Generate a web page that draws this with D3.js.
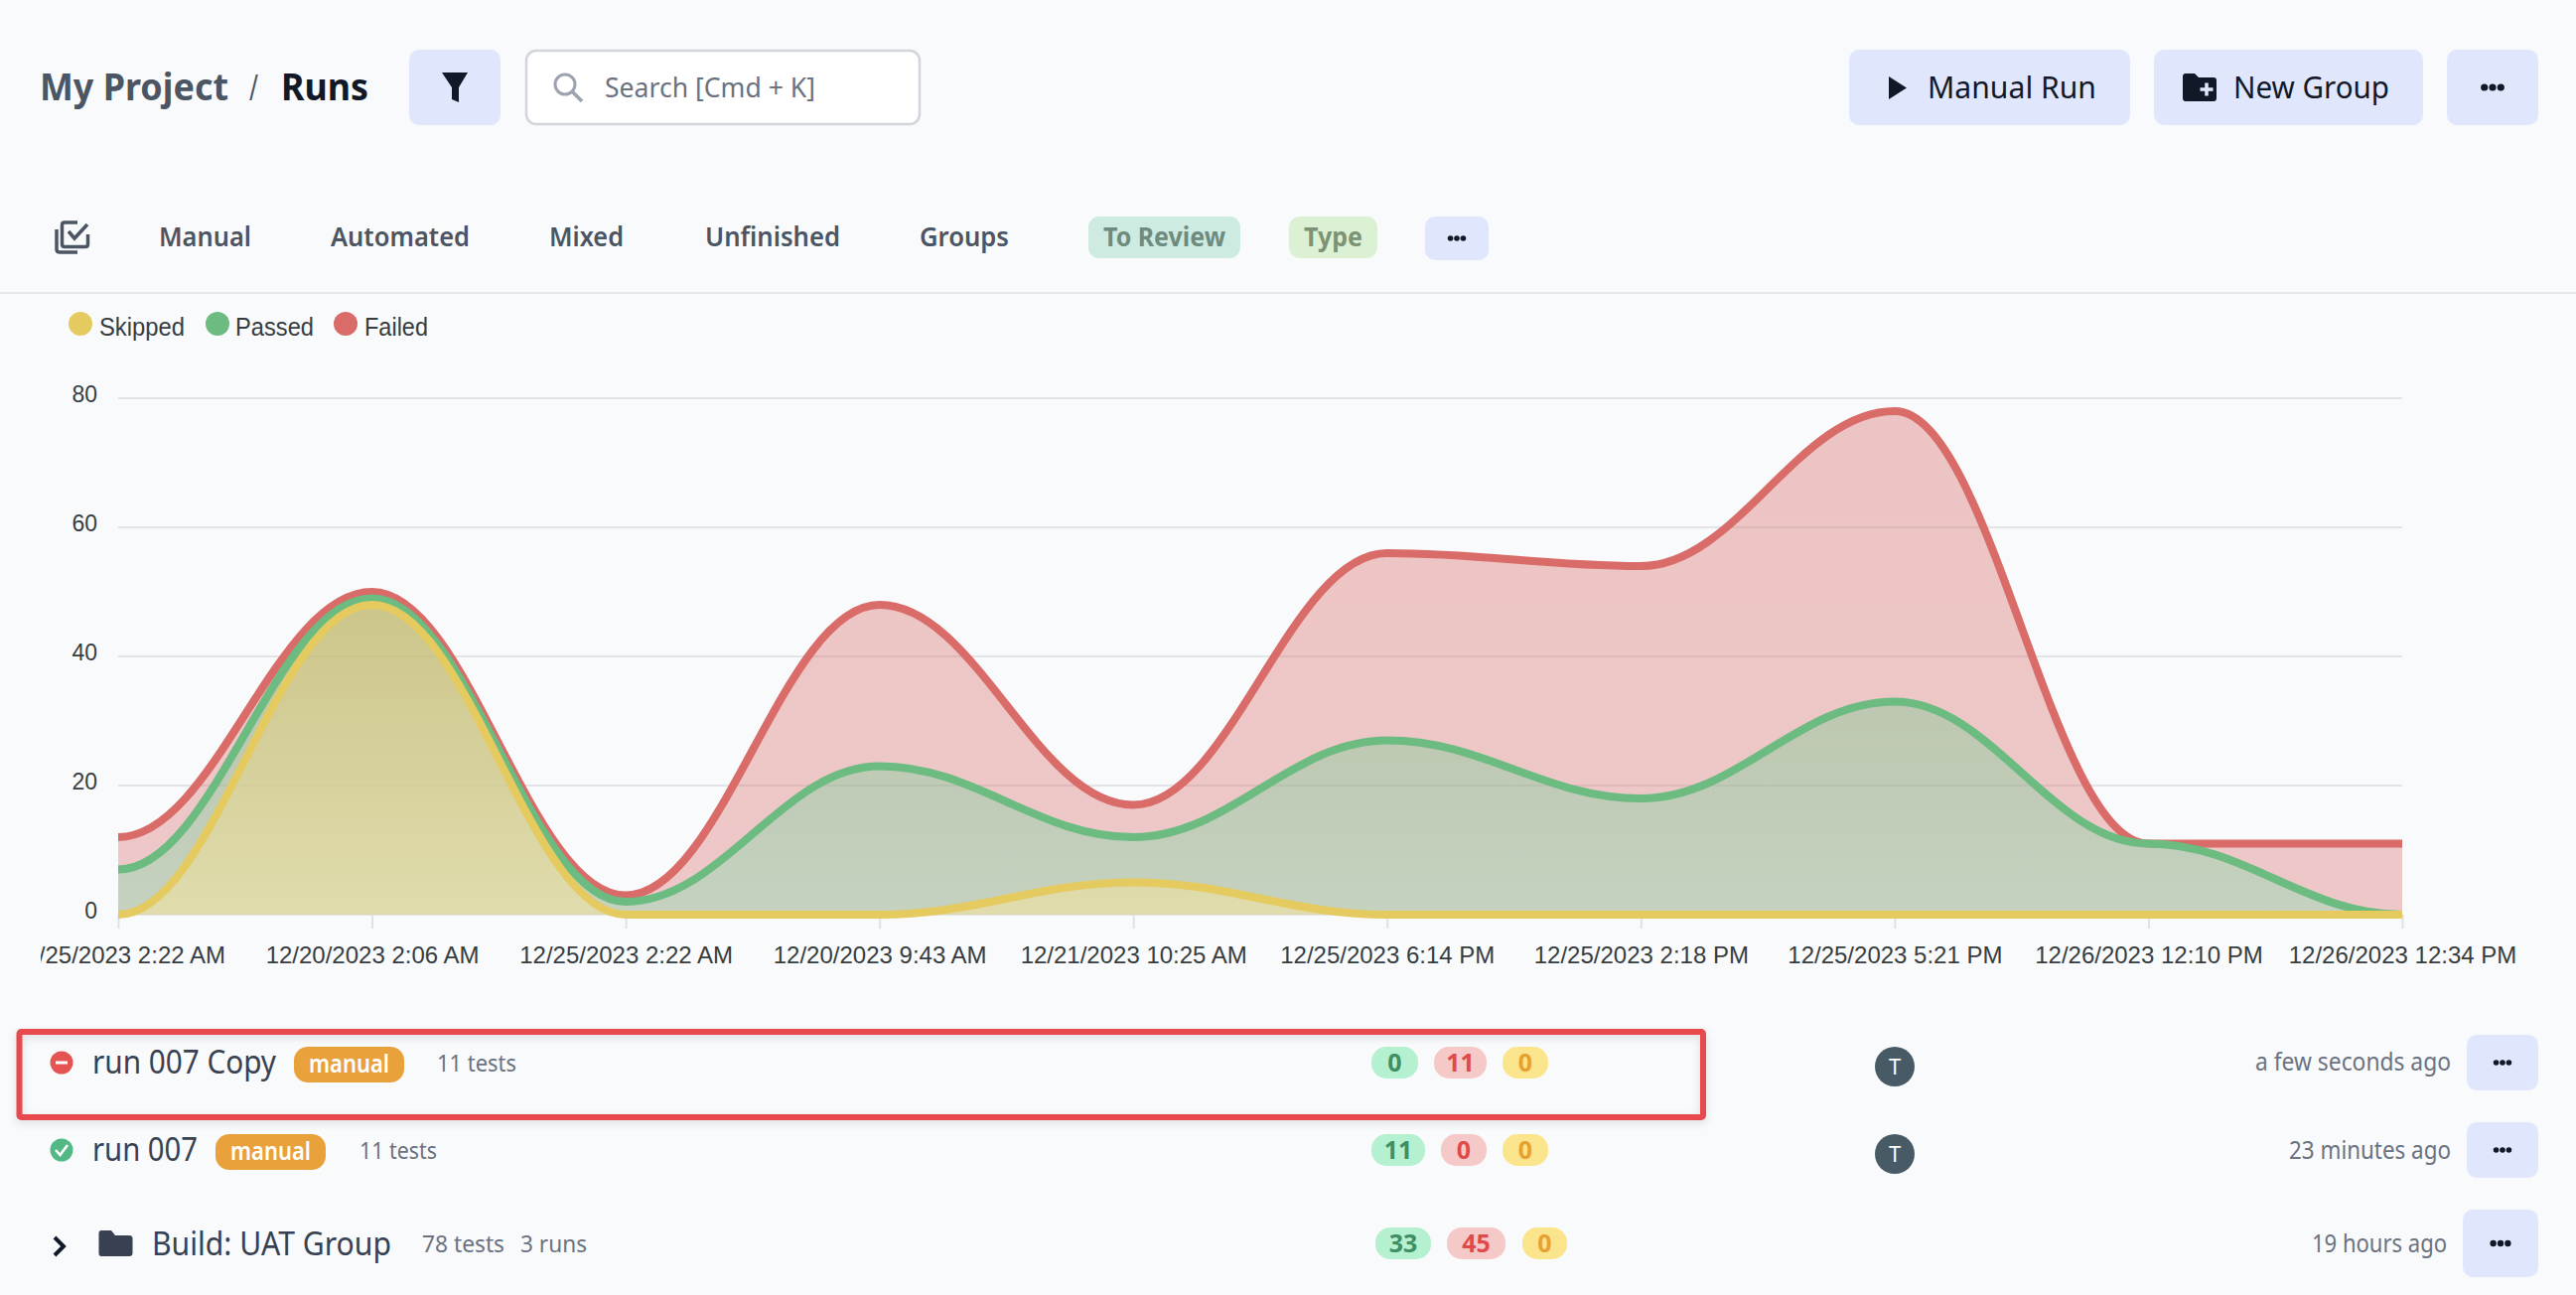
<!DOCTYPE html>
<html>
<head>
<meta charset="utf-8">
<title>Runs</title>
<script src="https://d3js.org/d3.v7.min.js"></script>
<style>
html, body { margin: 0; padding: 0; background: #f9fafc; }
svg { display: block; }
.ui { font-family: "Noto Sans", sans-serif; }
.chart text { font-family: "Liberation Sans", Arial, sans-serif; }
</style>
</head>
<body>
<svg id="page" width="2594" height="1304"></svg>
<script>
// chart values
var xLabels = ["12/25/2023 2:22 AM", "12/20/2023 2:06 AM", "12/25/2023 2:22 AM", "12/20/2023 9:43 AM", "12/21/2023 10:25 AM",
  "12/25/2023 6:14 PM", "12/25/2023 2:18 PM", "12/25/2023 5:21 PM", "12/26/2023 12:10 PM", "12/26/2023 12:34 PM"];
var failed  = [12, 50, 3, 48, 17, 56, 54, 78, 11, 11];
var passed  = [7, 49, 2, 23, 12, 27, 18, 33, 11, 0];
var skipped = [0, 48, 0, 0, 5, 0, 0, 0, 0, 0];
var yTicks = [0, 20, 40, 60, 80];
var seriesNames = ["Skipped", "Passed", "Failed"];
var seriesColors = ["#e5ca60", "#6cbb80", "#d96b68"];
// area fill: [top colour, top opacity, bottom colour, bottom opacity]
var seriesFills = [["#e5ca60", 0.42, "#fce699", 0.5], ["#6cbb80", 0.4, "#85e1b2", 0.4], ["#d96b68", 0.38, "#d96b68", 0.35]];

// page text: [text, x, baseline, width, size, weight, colour]
var pageTexts = [
  ["My Project", 40, 101, 190, 37, 700, "#4b5563"],
  ["/", 251, 101, 9, 37, 400, "#4b5563"],
  ["Runs", 283, 101, 88, 37, 700, "#111827"],
  ["Search [Cmd + K]", 609, 98, 212, 27, 400, "#6b7280"],
  ["Manual Run", 1941, 99, 170, 31, 400, "#111827"],
  ["New Group", 2249, 99, 157, 31, 400, "#111827"],
  ["Manual", 160, 248, 93, 27, 600, "#4b5563"],
  ["Automated", 333, 248, 140, 27, 600, "#4b5563"],
  ["Mixed", 553, 248, 75, 27, 600, "#4b5563"],
  ["Unfinished", 710, 248, 136, 27, 600, "#4b5563"],
  ["Groups", 926, 248, 90, 27, 600, "#4b5563"],
  ["To Review", 1111, 248, 123, 27, 700, "#6f8b80"],
  ["Type", 1313, 248, 59, 27, 700, "#7c9374"],
  ["run 007 Copy", 93, 1081, 185, 32, 400, "#374151"],
  ["11 tests", 440, 1079, 80, 24, 400, "#6b7280"],
  ["run 007", 93, 1169, 106, 32, 400, "#374151"],
  ["11 tests", 362, 1167, 78, 24, 400, "#6b7280"],
  ["Build: UAT Group", 153, 1264, 241, 32, 400, "#374151"],
  ["78 tests", 425, 1261, 83, 24, 400, "#6b7280"],
  ["3 runs", 524, 1261, 67, 24, 400, "#6b7280"]
];
var timeTexts = [["a few seconds ago", 2468, 1078, 197], ["23 minutes ago", 2468, 1167, 163], ["19 hours ago", 2464, 1261, 136]];

// flat buttons: [x, y, w, h]
var buttons = [[412, 50, 92, 76], [1862, 50, 283, 76], [2169, 50, 271, 76], [2464, 50, 92, 76],
  [1435, 218, 64, 44], [2484, 1042, 72, 56], [2484, 1130, 72, 56], [2480, 1218, 76, 68]];
var moreDots = [[2510, 88, 3.6], [1467, 240, 2.8], [2520, 1070, 2.8], [2520, 1158, 2.8], [2518, 1252, 3.2]];

// count pills: [text, x, y, w, h, kind]
var pillColors = { g: ["#b5f0d0", "#3f8f65"], r: ["#f6c9c9", "#e04a4a"], y: ["#fae48c", "#e8a030"] };
var pills = [
  ["0", 1381, 1054, 47, 32, "g"], ["11", 1444, 1054, 53, 32, "r"], ["0", 1513, 1054, 46, 32, "y"],
  ["11", 1381, 1142, 54, 32, "g"], ["0", 1451, 1142, 46, 32, "r"], ["0", 1513, 1142, 46, 32, "y"],
  ["33", 1385, 1236, 56, 32, "g"], ["45", 1457, 1236, 59, 32, "r"], ["0", 1533, 1236, 45, 32, "y"]
];
var manualBadges = [[296, 1054, 111, 36], [217, 1142, 111, 36]];
var avatars = [[1908, 1074], [1908, 1162]];

var svg = d3.select("#page");
svg.append("rect").attr("width", 2594).attr("height", 1304).attr("fill", "#f9fafc");

var defs = svg.append("defs");
var blur = defs.append("filter").attr("id", "soft").attr("x", "-5%").attr("y", "-20%").attr("width", "110%").attr("height", "140%");
blur.append("feDropShadow").attr("dx", 0).attr("dy", 3).attr("stdDeviation", 4).attr("flood-color", "#000").attr("flood-opacity", 0.12);

// ----- chart -----
var x = d3.scaleLinear().domain([0, xLabels.length - 1]).range([119, 2419]);
var y = d3.scaleLinear().domain([0, 80]).range([921, 401]);

// flat tangent at every point, the way the original curve behaves
function flatCurve(context) {
  var line, started, px, py;
  return {
    areaStart: function() { line = 0; },
    areaEnd: function() { line = NaN; },
    lineStart: function() { started = 0; },
    lineEnd: function() {
      if (line || (line !== 0 && started === 1)) context.closePath();
      line = 1 - line;
    },
    point: function(a, b) {
      a = +a; b = +b;
      if (started === 0) {
        started = 1;
        if (line) context.lineTo(a, b); else context.moveTo(a, b);
      } else {
        started = 2;
        var k = (a - px) * 0.38;
        context.bezierCurveTo(px + k, py, a - k, b, a, b);
      }
      px = a; py = b;
    }
  };
}

var chart = svg.append("g").attr("class", "chart");

chart.append("g").selectAll("line").data(yTicks).enter().append("line")
  .attr("x1", x(0)).attr("x2", x(9))
  .attr("y1", function(d) { return y(d); }).attr("y2", function(d) { return y(d); })
  .attr("stroke", "#e2e4e8").attr("stroke-width", 2);

// first label runs off the chart's left edge in the original
var labelClip = defs.append("clipPath").attr("id", "labelClip");
labelClip.append("rect").attr("x", 41).attr("y", 0).attr("width", 2553).attr("height", 70);

var xAxis = d3.axisBottom(x).tickValues(d3.range(xLabels.length))
  .tickFormat(function(i) { return xLabels[i]; }).tickSize(14).tickPadding(18);
var xAxisG = chart.append("g").attr("transform", "translate(0," + y(0) + ")").call(xAxis);
xAxisG.attr("clip-path", "url(#labelClip)");
xAxisG.select(".domain").remove();
xAxisG.selectAll("line").attr("stroke", "#dfe1e5").attr("stroke-width", 2);
xAxisG.selectAll("text").attr("fill", "#373d3f").attr("font-size", 24);

var yAxis = d3.axisLeft(y).tickValues(yTicks).tickSize(0).tickPadding(21);
var yAxisG = chart.append("g").attr("transform", "translate(" + x(0) + ",0)").call(yAxis);
yAxisG.select(".domain").remove();
yAxisG.selectAll("text").attr("fill", "#373d3f").attr("font-size", 23).attr("dy", "0.17em");

var area = d3.area().x(function(d, i) { return x(i); }).y0(y(0)).y1(function(d) { return y(d); }).curve(flatCurve);
var line = d3.line().x(function(d, i) { return x(i); }).y(function(d) { return y(d); }).curve(flatCurve);

[[failed, 2], [passed, 1], [skipped, 0]].forEach(function(s) {
  var color = seriesColors[s[1]], fill = seriesFills[s[1]], id = "fill" + s[1];
  var grad = defs.append("linearGradient").attr("id", id).attr("x1", 0).attr("y1", 0).attr("x2", 0).attr("y2", 1);
  grad.append("stop").attr("offset", "0%").attr("stop-color", fill[0]).attr("stop-opacity", fill[1]);
  grad.append("stop").attr("offset", "100%").attr("stop-color", fill[2]).attr("stop-opacity", fill[3]);
  chart.append("path").datum(s[0]).attr("d", area).attr("fill", "url(#" + id + ")");
  chart.append("path").datum(s[0]).attr("d", line).attr("fill", "none")
    .attr("stroke", color).attr("stroke-width", 8);
});

// legend
var legendX = [[81, 100, 86], [219, 237, 79], [348, 367, 64]];
var legend = chart.append("g").selectAll("g").data(seriesNames).enter().append("g");
legend.append("circle").attr("cx", function(d, i) { return legendX[i][0]; }).attr("cy", 326).attr("r", 12)
  .attr("fill", function(d, i) { return seriesColors[i]; });
legend.append("text").attr("x", function(d, i) { return legendX[i][1]; }).attr("y", 338)
  .attr("font-size", 25).attr("fill", "#373d3f")
  .attr("textLength", function(d, i) { return legendX[i][2]; }).attr("lengthAdjust", "spacingAndGlyphs")
  .text(function(d) { return d; });

// ----- page around the chart -----
var ui = svg.append("g").attr("class", "ui");

ui.selectAll(".btn").data(buttons).enter().append("rect").attr("class", "btn")
  .attr("x", function(d) { return d[0]; }).attr("y", function(d) { return d[1]; })
  .attr("width", function(d) { return d[2]; }).attr("height", function(d) { return d[3]; })
  .attr("rx", 10).attr("fill", "#e0e7fd");

ui.append("rect").attr("x", 530).attr("y", 51).attr("width", 396).attr("height", 74).attr("rx", 10)
  .attr("fill", "#fff").attr("stroke", "#d1d5db").attr("stroke-width", 2.5);

// tab pills
ui.append("rect").attr("x", 1096).attr("y", 218).attr("width", 153).attr("height", 42).attr("rx", 11).attr("fill", "#cdebe1");
ui.append("rect").attr("x", 1298).attr("y", 218).attr("width", 89).attr("height", 42).attr("rx", 11).attr("fill", "#dcf1d4");

ui.append("rect").attr("x", 0).attr("y", 294).attr("width", 2594).attr("height", 2).attr("fill", "#e5e7eb");

// icons
ui.append("path").attr("d", "M445 73H471L462 88V103L455 100V88Z").attr("fill", "#111827");
ui.append("circle").attr("cx", 569).attr("cy", 85).attr("r", 10).attr("fill", "none").attr("stroke", "#9ca3af").attr("stroke-width", 3);
ui.append("path").attr("d", "M576 92L586 102").attr("stroke", "#9ca3af").attr("stroke-width", 3.5);
ui.append("path").attr("d", "M1902 77L1920 88.5L1902 100Z").attr("fill", "#111827");
ui.append("path").attr("d", "M2198 77Q2198 74 2201 74H2210L2214 78H2229Q2232 78 2232 81V99Q2232 102 2229 102H2201Q2198 102 2198 99Z").attr("fill", "#111827");
ui.append("path").attr("d", "M2222 83.5V96.5M2215.5 90H2228.5").attr("stroke", "#e0e7fd").attr("stroke-width", 3.5);
var iconLine = function(d, w) {
  ui.append("path").attr("d", d).attr("fill", "none").attr("stroke", "#4b5563").attr("stroke-width", w);
};
iconLine("M78 224H65Q62.5 224 62.5 226.5V246Q62.5 248.5 65 248.5H86Q88.5 248.5 88.5 246V236", 3.5);
iconLine("M57 231V251Q57 254 60 254H78", 3.5);
iconLine("M69 233L75 240L88 226", 3.5);

moreDots.forEach(function(d) {
  ui.selectAll(null).data([-1, 0, 1]).enter().append("circle")
    .attr("cx", function(k) { return d[0] + k * d[2] * 2.3; }).attr("cy", d[1]).attr("r", d[2]).attr("fill", "#111827");
});

// highlight box
ui.append("rect").attr("x", 19.5).attr("y", 1039).attr("width", 1695.5).attr("height", 86).attr("rx", 2)
  .attr("fill", "none").attr("stroke", "#e8484d").attr("stroke-width", 6).attr("filter", "url(#soft)");

// status icons
ui.append("circle").attr("cx", 62).attr("cy", 1070).attr("r", 11.5).attr("fill", "#e55353");
ui.append("rect").attr("x", 56).attr("y", 1068.5).attr("width", 12).attr("height", 3).attr("fill", "#fff");
ui.append("circle").attr("cx", 62).attr("cy", 1158).attr("r", 11.5).attr("fill", "#51b886");
ui.append("path").attr("d", "M56 1158L60.5 1163L68 1153").attr("fill", "none").attr("stroke", "#fff").attr("stroke-width", 2.6);
ui.append("path").attr("d", "M55 1246L64 1255L55 1264").attr("fill", "none").attr("stroke", "#111827").attr("stroke-width", 4);
ui.append("path").attr("d", "M99.5 1242Q99.5 1239 102 1239H112L116 1244H130Q133.5 1244 133.5 1247V1262Q133.5 1265 130 1265H102Q99.5 1265 99.5 1262Z").attr("fill", "#374151");

// manual badges
var badge = ui.selectAll(".badge").data(manualBadges).enter().append("g").attr("class", "badge");
badge.append("rect").attr("x", function(d) { return d[0]; }).attr("y", function(d) { return d[1]; })
  .attr("width", function(d) { return d[2]; }).attr("height", function(d) { return d[3]; })
  .attr("rx", 14).attr("fill", "#e9a13b");
badge.append("text").attr("x", function(d) { return d[0] + 15; }).attr("y", function(d) { return d[1] + 26; })
  .attr("font-size", 25).attr("fill", "#fff").attr("font-weight", 600)
  .attr("textLength", 81).attr("lengthAdjust", "spacingAndGlyphs").text("manual");

// count pills
var pill = ui.selectAll(".pill").data(pills).enter().append("g").attr("class", "pill");
pill.append("rect").attr("x", function(d) { return d[1]; }).attr("y", function(d) { return d[2]; })
  .attr("width", function(d) { return d[3]; }).attr("height", function(d) { return d[4]; })
  .attr("rx", 15).attr("fill", function(d) { return pillColors[d[5]][0]; });
pill.append("text").attr("x", function(d) { return d[1] + d[3] / 2; }).attr("y", function(d) { return d[2] + 25; })
  .attr("text-anchor", "middle").attr("font-size", 25).attr("font-weight", 700)
  .attr("fill", function(d) { return pillColors[d[5]][1]; }).text(function(d) { return d[0]; });

// avatars
var av = ui.selectAll(".avatar").data(avatars).enter().append("g").attr("class", "avatar");
av.append("circle").attr("cx", function(d) { return d[0]; }).attr("cy", function(d) { return d[1]; }).attr("r", 20).attr("fill", "#475a66");
av.append("text").attr("x", function(d) { return d[0]; }).attr("y", function(d) { return d[1] + 8; })
  .attr("text-anchor", "middle").attr("font-size", 22).attr("fill", "#fff").text("T");

// texts
ui.selectAll(".label").data(pageTexts).enter().append("text").attr("class", "label")
  .attr("x", function(d) { return d[1]; }).attr("y", function(d) { return d[2]; })
  .attr("textLength", function(d) { return d[3]; }).attr("lengthAdjust", "spacingAndGlyphs")
  .attr("font-size", function(d) { return d[4]; }).attr("font-weight", function(d) { return d[5]; })
  .attr("fill", function(d) { return d[6]; }).text(function(d) { return d[0]; });

ui.selectAll(".time").data(timeTexts).enter().append("text").attr("class", "time")
  .attr("x", function(d) { return d[1] - d[3]; }).attr("y", function(d) { return d[2]; })
  .attr("textLength", function(d) { return d[3]; }).attr("lengthAdjust", "spacingAndGlyphs")
  .attr("font-size", 25).attr("fill", "#6b7280").text(function(d) { return d[0]; });
</script>
</body>
</html>
